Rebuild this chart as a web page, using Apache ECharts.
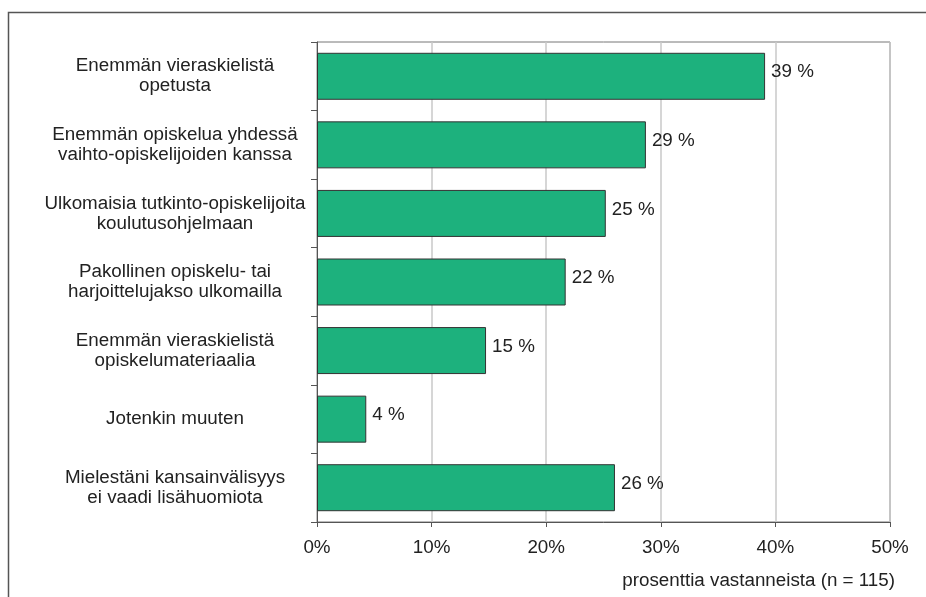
<!DOCTYPE html>
<html>
<head>
<meta charset="utf-8">
<script src="https://cdn.jsdelivr.net/npm/echarts@6/dist/echarts.min.js"></script>
<style>html,body{margin:0;padding:0;background:#fff}#c{width:926px;height:597px}</style>
</head>
<body>
<div id="c"></div>
<script>
const categories = [
  "Enemmän vieraskielistä\nopetusta",
  "Enemmän opiskelua yhdessä\nvaihto-opiskelijoiden kanssa",
  "Ulkomaisia tutkinto-opiskelijoita\nkoulutusohjelmaan",
  "Pakollinen opiskelu- tai\nharjoittelujakso ulkomailla",
  "Enemmän vieraskielistä\nopiskelumateriaalia",
  "Jotenkin muuten",
  "Mielestäni kansainvälisyys\nei vaadi lisähuomiota"
];
const values = [39.1, 28.7, 25.2, 21.7, 14.75, 4.3, 26.0];
const valueLabels = ["39 %", "29 %", "25 %", "22 %", "15 %", "4 %", "26 %"];
const axisTitle = "prosenttia vastanneista (n = 115)";

const FONT = "'Liberation Sans', Arial, sans-serif";
const FS = 18.8;
const chart = echarts.init(document.getElementById('c'), null, {renderer: 'canvas'});
chart.setOption({
  animation: false,
  backgroundColor: '#fff',
  textStyle: {fontFamily: FONT},
  title: {
    text: axisTitle,
    right: 26, top: 566,
    textStyle: {fontFamily: FONT, fontSize: FS, fontWeight: 'normal', color: '#222'}
  },
  grid: {
    left: 317, right: 36, top: 42, bottom: 75,
    show: true, borderColor: '#777', borderWidth: 1, backgroundColor: 'transparent'
  },
  xAxis: {
    type: 'value', min: 0, max: 50, interval: 10,
    axisLine: {show: true, lineStyle: {color: '#555', width: 1}},
    axisTick: {show: true, length: 5, lineStyle: {color: '#555'}},
    axisLabel: {formatter: '{value}%', fontFamily: FONT, fontSize: FS, color: '#222', margin: 16},
    splitLine: {show: true, lineStyle: {color: '#c8c8c8', width: 1.5}}
  },
  yAxis: {
    type: 'category', data: categories, inverse: true,
    axisLine: {show: true, lineStyle: {color: '#555', width: 1}},
    axisTick: {show: true, length: 6, lineStyle: {color: '#555'}},
    axisLabel: {fontFamily: FONT, fontSize: FS, color: '#222', align: 'center', margin: 142, lineHeight: 20}
  },
  series: [{
    type: 'bar', data: values, barWidth: 47,
    itemStyle: {color: '#1db17d', borderColor: '#333', borderWidth: 1},
    label: {
      show: true, position: 'right', distance: 6, offset: [0, -4],
      fontFamily: FONT, fontSize: FS, color: '#222',
      formatter: p => valueLabels[p.dataIndex]
    }
  }],
  graphic: [{
    type: 'polyline', silent: true,
    shape: {points: [[8.5, 597], [8.5, 12.5], [926, 12.5]]},
    style: {stroke: '#555', lineWidth: 1.5, fill: null}
  }]
});
</script>
</body>
</html>
